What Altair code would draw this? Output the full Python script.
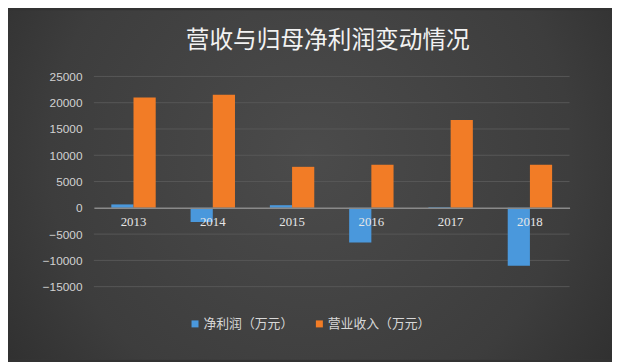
import altair as alt
import pandas as pd

years = ["2013", "2014", "2015", "2016", "2017", "2018"]
net_profit = [650, -2700, 500, -6600, 120, -11000]
revenue = [21000, 21500, 7800, 8200, 16700, 8200]
series_names = ["净利润（万元）", "营业收入（万元）"]
series_colors = ["#4A98DC", "#F27C26"]
y_ticks = [-15000, -10000, -5000, 0, 5000, 10000, 15000, 20000, 25000]

rows = []
for i, yr in enumerate(years):
    rows.append({"year": yr, "series": series_names[0], "value": net_profit[i]})
    rows.append({"year": yr, "series": series_names[1], "value": revenue[i]})
df = pd.DataFrame(rows)
grid_df = pd.DataFrame({"tick": [t for t in y_ticks if t != 0]})

W, H = 482, 213
PL, PT, PR, PB = 87, 67, 43, 74
y_scale = alt.Scale(domain=[-15000, 25000], nice=False, zero=False)
y_axis = alt.Axis(title=None, values=y_ticks, format="d",
                  domain=False, ticks=False, grid=False, zindex=1,
                  labelOverlap=False,
                  labelFont="Liberation Sans", labelFontSize=12,
                  labelColor="#d2d2d2", labelPadding=12)

bg = alt.Chart(pd.DataFrame({"a": [0]})).mark_rect(
    color=alt.Gradient(
        gradient="radial",
        x1=0.5, y1=0.45, r1=0.0,
        x2=0.5, y2=0.45, r2=0.72,
        stops=[alt.GradientStop(offset=0, color="#4b4b4b"),
               alt.GradientStop(offset=0.6, color="#3d3d3d"),
               alt.GradientStop(offset=1, color="#282828")],
    )
).encode(
    x=alt.value(-PL), x2=alt.value(W + PR),
    y=alt.value(-PT), y2=alt.value(H + PB),
)

grid = alt.Chart(grid_df).mark_rule(color="#575757", strokeWidth=1).encode(
    y=alt.Y("tick:Q", scale=y_scale, axis=y_axis),
)

bars = alt.Chart(df).mark_bar().encode(
    x=alt.X("year:N", sort=years,
            scale=alt.Scale(paddingInner=0.44, paddingOuter=0.22),
            axis=alt.Axis(title=None, labelAngle=0, ticks=False, domain=True,
                          domainColor="#8a8a8a", domainWidth=1.5,
                          labelFont="Liberation Serif", labelFontSize=13,
                          labelColor="#e6e6e6", labelPadding=8,
                          offset=-80, zindex=1, grid=False)),
    xOffset=alt.XOffset("series:N", sort=series_names,
                        scale=alt.Scale(paddingInner=0, paddingOuter=0)),
    y=alt.Y("value:Q", scale=y_scale, axis=y_axis),
    color=alt.Color("series:N", sort=series_names,
                    scale=alt.Scale(domain=series_names, range=series_colors),
                    legend=alt.Legend(title=None, orient="none", direction="horizontal",
                                      legendX=96, legendY=244,
                                      symbolType="square", symbolSize=50,
                                      symbolStrokeWidth=0,
                                      labelFont="Noto Sans CJK SC", labelFontSize=13,
                                      labelColor="#d8d8d8", labelOffset=2,
                                      columnPadding=19, zindex=1)),
)

chart = alt.layer(bg, grid, bars).properties(
    width=W, height=H,
    padding={"left": PL, "top": PT, "right": PR, "bottom": PB},
    autosize=alt.AutoSizeParams(type="none"),
    background="#333333",
    title=alt.TitleParams(
        "营收与归母净利润变动情况",
        font="Noto Sans CJK SC", fontSize=24, fontWeight="normal",
        color="#f2f2f2", anchor="middle", dx=-4, offset=-43,
    ),
).configure_view(stroke=None)

chart.save("out.html", embed_options={"renderer": "svg", "actions": False})
